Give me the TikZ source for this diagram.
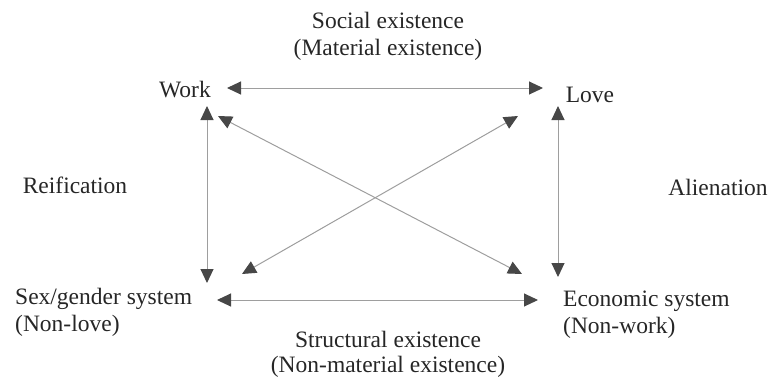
\documentclass[tikz,border=0pt]{standalone}
\usepackage{fontspec}
\setmainfont{Liberation Serif}
\usetikzlibrary{arrows.meta}
\begin{document}
\begin{tikzpicture}[x=1pt,y=-1pt,
  lbl/.style={font=\fontsize{23.5}{27}\selectfont, inner sep=0pt, text=black!85},
  conn/.style={draw=black!38, line width=1pt,
    {Triangle[length=14pt,width=13pt,color=black!72]}-{Triangle[length=14pt,width=13pt,color=black!72]}}]
\useasboundingbox (0,0) rectangle (771,384);
% labels
\node[lbl] (soc) at (388,20) {Social existence};
\node[lbl] (mat) at (388,50) {(Material existence)};
\node[lbl] (work) at (185,90) {Work};
\node[lbl] (love) at (590,95) {Love};
\node[lbl] (reif) at (75,185) {Reification};
\node[lbl] (alien) at (718,187) {Alienation};
\node[lbl, anchor=west] (sex) at (15,299) {Sex/gender system};
\node[lbl, anchor=west] (nonlove) at (15,326) {(Non-love)};
\node[lbl, anchor=west] (econ) at (563,301) {Economic system};
\node[lbl, anchor=west] (nonwork) at (563,328) {(Non-work)};
\node[lbl] (struct) at (388,339) {Structural existence};
\node[lbl] (nonmat) at (388,367) {(Non-material existence)};
% connector endpoints
\coordinate (wR) at (227,88);
\coordinate (lL) at (543,88);
\coordinate (wB) at (207,106);
\coordinate (sT) at (207,283);
\coordinate (lB) at (558,106);
\coordinate (eT) at (558,277);
\coordinate (sR) at (217,300);
\coordinate (eL) at (538,300);
\coordinate (wD) at (218,116);
\coordinate (eU) at (522,274);
\coordinate (lD) at (518,116);
\coordinate (sU) at (242,274);
% connectors
\draw[conn] (wR) -- (lL);
\draw[conn] (wB) -- (sT);
\draw[conn] (lB) -- (eT);
\draw[conn] (sR) -- (eL);
\draw[conn] (wD) -- (eU);
\draw[conn] (lD) -- (sU);
\end{tikzpicture}
\end{document}
